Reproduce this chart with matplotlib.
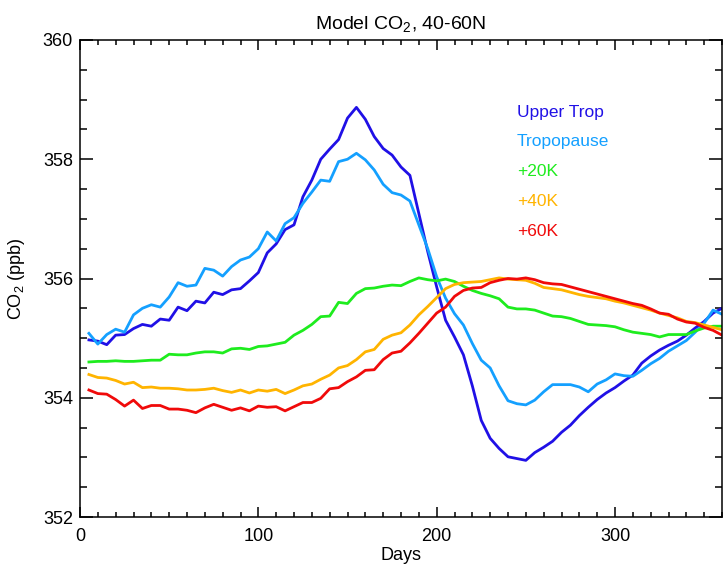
import numpy as np
import matplotlib
matplotlib.use("Agg")
import matplotlib.pyplot as plt
from matplotlib.ticker import MultipleLocator

plt.rcParams['font.family'] = ['Liberation Sans', 'DejaVu Sans']
plt.rcParams['mathtext.fontset'] = 'custom'
plt.rcParams['mathtext.rm'] = 'Liberation Sans'
plt.rcParams['mathtext.it'] = 'Liberation Sans:italic'

# pentad days
days = np.arange(5, 365, 5)

upper_trop = [354.97, 354.95, 354.89, 355.05, 355.06, 355.16, 355.23, 355.20, 355.32, 355.30,
              355.52, 355.46, 355.62, 355.59, 355.77, 355.73, 355.81, 355.83, 355.96, 356.10,
              356.43, 356.58, 356.82, 356.90, 357.37, 357.65, 358.00, 358.17, 358.33, 358.69,
              358.87, 358.67, 358.38, 358.18, 358.07, 357.87, 357.73, 357.09, 356.45, 355.86,
              355.30, 355.02, 354.72, 354.20, 353.62, 353.32, 353.15, 353.01, 352.98, 352.95,
              353.08, 353.17, 353.27, 353.42, 353.54, 353.70, 353.84, 353.97, 354.08, 354.17,
              354.28, 354.38, 354.58, 354.70, 354.80, 354.88, 354.95, 355.05, 355.17, 355.28,
              355.42, 355.50]
tropopause = [355.08, 354.90, 355.06, 355.15, 355.10, 355.39, 355.50, 355.56, 355.52, 355.69,
              355.93, 355.87, 355.89, 356.17, 356.14, 356.04, 356.20, 356.31, 356.36, 356.50,
              356.78, 356.63, 356.92, 357.02, 357.26, 357.45, 357.65, 357.63, 357.96, 358.00,
              358.10, 357.99, 357.82, 357.58, 357.44, 357.40, 357.30, 356.90, 356.50, 356.03,
              355.67, 355.41, 355.22, 354.91, 354.63, 354.50, 354.20, 353.95, 353.90, 353.88,
              353.96, 354.10, 354.22, 354.22, 354.22, 354.18, 354.10, 354.23, 354.30, 354.40,
              354.37, 354.36, 354.46, 354.57, 354.66, 354.78, 354.87, 354.96, 355.10, 355.25,
              355.47, 355.40]
plus20k = [354.60, 354.61, 354.61, 354.62, 354.61, 354.61, 354.62, 354.63, 354.63, 354.73,
           354.72, 354.72, 354.75, 354.77, 354.77, 354.75, 354.82, 354.83, 354.81, 354.86,
           354.87, 354.90, 354.93, 355.05, 355.13, 355.23, 355.36, 355.37, 355.60, 355.58,
           355.75, 355.83, 355.84, 355.87, 355.89, 355.88, 355.95, 356.01, 355.98, 355.96,
           355.99, 355.95, 355.87, 355.80, 355.75, 355.71, 355.66, 355.52, 355.49, 355.49,
           355.47, 355.42, 355.37, 355.36, 355.33, 355.28, 355.23, 355.22, 355.21, 355.19,
           355.14, 355.10, 355.08, 355.06, 355.02, 355.06, 355.06, 355.06, 355.12, 355.17,
           355.20, 355.20]
plus40k = [354.39, 354.34, 354.33, 354.29, 354.23, 354.26, 354.17, 354.18, 354.16, 354.16,
           354.15, 354.13, 354.13, 354.14, 354.16, 354.12, 354.09, 354.13, 354.08, 354.13,
           354.11, 354.14, 354.07, 354.13, 354.20, 354.23, 354.31, 354.38, 354.50, 354.54,
           354.64, 354.77, 354.81, 354.98, 355.05, 355.09, 355.22, 355.39, 355.53, 355.68,
           355.83, 355.90, 355.93, 355.94, 355.95, 355.98, 356.01, 355.99, 355.98, 355.97,
           355.92, 355.85, 355.83, 355.81, 355.77, 355.73, 355.70, 355.68, 355.66, 355.62,
           355.59, 355.55, 355.51, 355.47, 355.42, 355.38, 355.34, 355.28, 355.26, 355.22,
           355.18, 355.14]
plus60k = [354.13, 354.07, 354.06, 353.97, 353.86, 353.96, 353.82, 353.87, 353.87, 353.81,
           353.81, 353.79, 353.75, 353.83, 353.89, 353.84, 353.79, 353.83, 353.78, 353.86,
           353.84, 353.85, 353.78, 353.85, 353.92, 353.92, 353.99, 354.15, 354.17, 354.27,
           354.35, 354.46, 354.47, 354.64, 354.75, 354.78, 354.92, 355.08, 355.25, 355.42,
           355.52, 355.70, 355.80, 355.84, 355.85, 355.93, 355.97, 356.00, 355.99, 356.01,
           355.98, 355.93, 355.91, 355.90, 355.86, 355.82, 355.78, 355.74, 355.70, 355.66,
           355.62, 355.58, 355.55, 355.49, 355.42, 355.40, 355.32, 355.27, 355.25, 355.18,
           355.13, 355.05]

labels = ['Upper Trop', 'Tropopause', '+20K', '+40K', '+60K']
colors = ['#2010e6', '#14a0ff', '#1eec1e', '#ffb400', '#f00a0a']
series = [upper_trop, tropopause, plus20k, plus40k, plus60k]

fig = plt.figure(figsize=(7.23, 5.70), dpi=100)
ax = fig.add_axes([80 / 723, 53 / 570, 642 / 723, 477 / 570])

for vals, col in zip(series, colors):
    ax.plot(days, vals, color=col, lw=2, clip_on=True)

# label block in data coordinates
for i, (lab, col) in enumerate(zip(labels, colors)):
    ax.text(245, 358.79 - 0.5 * i, lab, color=col, fontsize=12.5, va='center', ha='left')

ax.set_xlim(0, 360)
ax.set_ylim(352, 360)
ax.xaxis.set_major_locator(MultipleLocator(100))
ax.xaxis.set_minor_locator(MultipleLocator(10))
ax.yaxis.set_major_locator(MultipleLocator(2))
ax.yaxis.set_minor_locator(MultipleLocator(0.5))
ax.tick_params(axis='both', which='both', direction='in', top=True, right=True,
               width=1.1, labelsize=13)
ax.tick_params(axis='x', which='major', length=7, pad=8)
ax.tick_params(axis='x', which='minor', length=3.5)
ax.tick_params(axis='y', which='major', length=9.5, pad=5)
ax.tick_params(axis='y', which='minor', length=4.7)
for sp in ax.spines.values():
    sp.set_linewidth(1.1)

ax.set_xlabel('Days', fontsize=13, labelpad=1)
ax.set_ylabel('CO$_2$ (ppb)', fontsize=13)
ax.yaxis.set_label_coords(-0.082, 0.5)
ax.set_title('Model CO$_2$, 40-60N', fontsize=14, pad=8)

fig.savefig('out.png', dpi=100)
